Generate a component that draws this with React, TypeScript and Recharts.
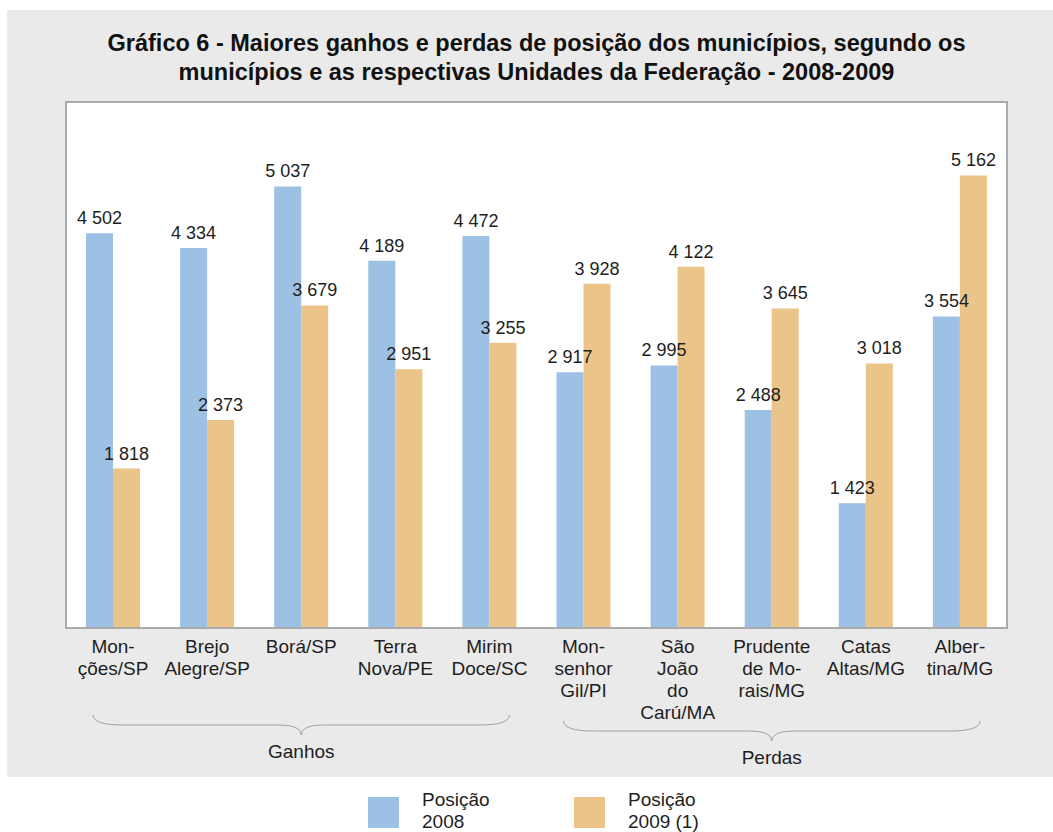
import React from 'react';
import { BarChart, Bar, XAxis, YAxis, CartesianGrid, LabelList, ReferenceArea } from 'recharts';

const categories = [
  'Mon-\nções/SP',
  'Brejo\nAlegre/SP',
  'Borá/SP',
  'Terra\nNova/PE',
  'Mirim\nDoce/SC',
  'Mon-\nsenhor\nGil/PI',
  'São\nJoão\ndo\nCarú/MA',
  'Prudente\nde Mo-\nrais/MG',
  'Catas\nAltas/MG',
  'Alber-\ntina/MG',
];
const posicao2008 = [4502, 4334, 5037, 4189, 4472, 2917, 2995, 2488, 1423, 3554];
const posicao2009 = [1818, 2373, 3679, 2951, 3255, 3928, 4122, 3645, 3018, 5162];
const groupLabels = ['Ganhos', 'Perdas'];
const groupStart = [0, 5];
const groupEnd = [4, 9];
const seriesNames = ['Posição\n2008', 'Posição\n2009 (1)'];

const data = categories.map((name, i) => ({
  name,
  p2008: posicao2008[i],
  p2009: posicao2009[i],
}));

const W = 1053;
const H = 832;
const PLOT_LEFT = 66;
const PLOT_RIGHT = 1007;
const PLOT_TOP = 102;
const PLOT_BOTTOM = 628;
const X_AXIS_H = 150;
const BAND = (PLOT_RIGHT - PLOT_LEFT) / categories.length;

const FONT = '"Liberation Sans", Arial, Helvetica, sans-serif';
const TEXT = '#1e1e1e';
const BLUE = '#9dc0e5';
const ORANGE = '#ebc489';
const BORDER = '#ababab';

// thousands separated by a non-breaking space so the label never wraps
const fmt = (v: any) => String(v).replace(/\B(?=(\d{3})+(?!\d))/g, '\u00a0');

const Brace = ({ cx, y, half, label, drop }: any) => {
  const top = y + drop;
  const mid = top + 10;
  const tip = top + 20;
  const x0 = cx - half;
  const x1 = cx + half;
  const d = `M${x0},${top} Q${x0},${mid} ${x0 + 30},${mid} L${cx - 22},${mid} Q${cx},${mid} ${cx},${tip} ` +
    `Q${cx},${mid} ${cx + 22},${mid} L${x1 - 30},${mid} Q${x1},${mid} ${x1},${top}`;
  return (
    <g>
      <path d={d} fill="none" stroke="#a0a0a0" strokeWidth={1} />
      <text x={cx} y={tip + 23} textAnchor="middle" fontSize={19} fill={TEXT} fontFamily={FONT}>
        {label}
      </text>
    </g>
  );
};

const CategoryTick = (props: any) => {
  const { x, y, payload } = props;
  const index = payload.index ?? props.index;
  const lines = String(payload.value).split('\n');
  const g = groupStart.findIndex((s, k) => index === Math.round((s + groupEnd[k]) / 2));
  let brace = null;
  if (g >= 0) {
    const maxLines = Math.max(
      ...categories.slice(groupStart[g], groupEnd[g] + 1).map((c) => c.split('\n').length)
    );
    const span = (groupEnd[g] - groupStart[g]) / 2;
    brace = (
      <Brace
        cx={x}
        y={y}
        half={span * BAND + 20}
        label={groupLabels[g]}
        drop={maxLines > 2 ? 93 : 87}
      />
    );
  }
  return (
    <g>
      <text x={x} y={y} textAnchor="middle" fontSize={19} fill={TEXT} fontFamily={FONT}>
        {lines.map((l, i) => (
          <tspan key={i} x={x} dy={i === 0 ? 25 : 22}>
            {l}
          </tspan>
        ))}
      </text>
      {brace}
    </g>
  );
};

const LegendItem = ({ color, label, left }: any) => (
  <div style={{ position: 'absolute', left, top: 789, display: 'flex' }}>
    <div style={{ width: 31, height: 31, background: color, marginTop: 8 }} />
    <div
      style={{
        marginLeft: 23,
        fontSize: 19,
        lineHeight: '22px',
        color: TEXT,
        fontFamily: FONT,
        whiteSpace: 'pre',
      }}
    >
      {label}
    </div>
  </div>
);

export default function App() {
  return (
    <div style={{ position: 'absolute', left: 0, top: 0, width: W, height: H, background: '#fff', overflow: 'hidden' }}>
      <div style={{ position: 'absolute', left: 7, top: 10, width: W - 7, height: 767, background: '#eaeaea' }} />
      <div
        style={{
          position: 'absolute',
          left: PLOT_LEFT - 30,
          width: PLOT_RIGHT - PLOT_LEFT + 60,
          top: 29,
          textAlign: 'center',
          fontFamily: FONT,
          fontWeight: 'bold',
          fontSize: 23.5,
          lineHeight: '28.6px',
          color: '#111',
        }}
      >
        Gráfico 6 - Maiores ganhos e perdas de posição dos municípios, segundo os
        <br />
        municípios e as respectivas Unidades da Federação - 2008-2009
      </div>
      <div style={{ position: 'absolute', left: 0, top: 0 }}>
        <BarChart
          width={W}
          height={H}
          data={data}
          barSize={27}
          barGap={0}
          margin={{ top: PLOT_TOP, left: PLOT_LEFT, right: W - PLOT_RIGHT, bottom: H - PLOT_BOTTOM - X_AXIS_H }}
        >
          <CartesianGrid fill="#ffffff" horizontal={false} vertical={false} />
          <ReferenceArea y1={0} y2={6000} fill="none" stroke={BORDER} strokeWidth={2} />
          <XAxis
            dataKey="name"
            interval={0}
            height={X_AXIS_H}
            tickLine={false}
            tickSize={0}
            tickMargin={0}
            axisLine={{ stroke: BORDER, strokeWidth: 2 }}
            tick={<CategoryTick />}
          />
          <YAxis domain={[0, 6000]} width={0} tick={false} tickLine={false} axisLine={false} />
          <Bar dataKey="p2008" fill={BLUE} isAnimationActive={false}>
            <LabelList dataKey="p2008" position="top" offset={9} formatter={fmt} fontSize={18} fill={TEXT} fontFamily={FONT} />
          </Bar>
          <Bar dataKey="p2009" fill={ORANGE} isAnimationActive={false}>
            <LabelList dataKey="p2009" position="top" offset={9} formatter={fmt} fontSize={18} fill={TEXT} fontFamily={FONT} />
          </Bar>
        </BarChart>
      </div>
      <LegendItem color={BLUE} label={seriesNames[0]} left={368} />
      <LegendItem color={ORANGE} label={seriesNames[1]} left={574} />
    </div>
  );
}
